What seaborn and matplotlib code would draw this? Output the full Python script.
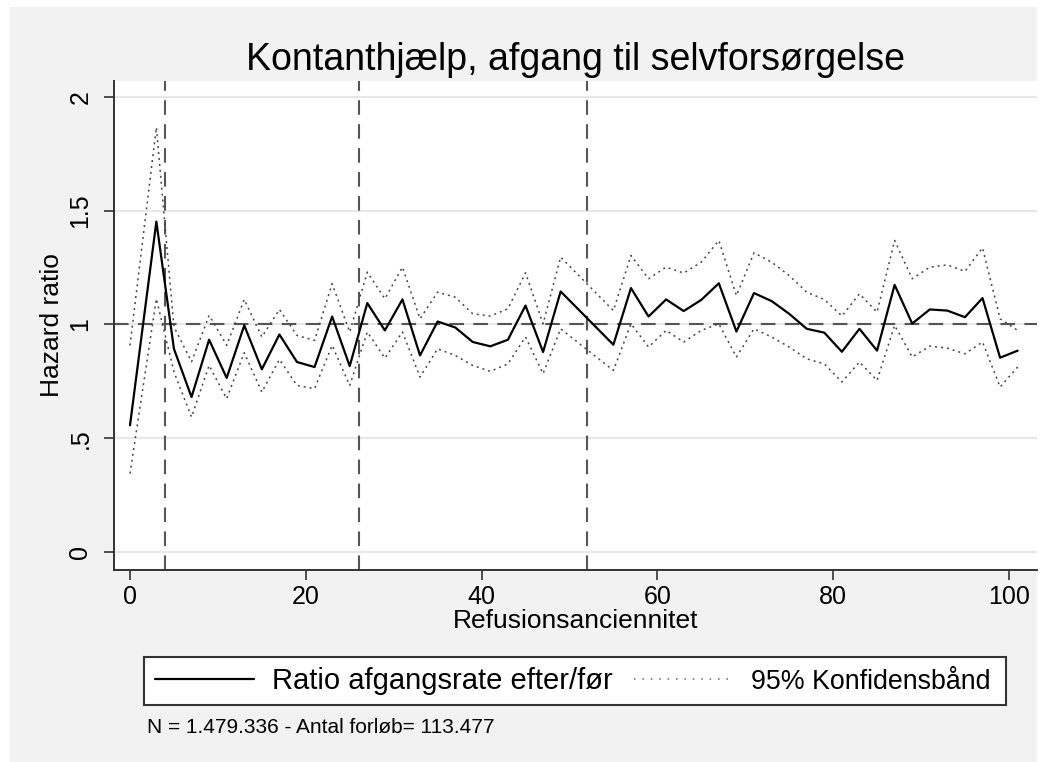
import pandas as pd
import matplotlib
matplotlib.use("Agg")
import matplotlib.pyplot as plt
import seaborn as sns
from matplotlib.patches import Rectangle

# Hazard ratio by refusion seniority (weeks)
weeks = [0, 3, 5, 7, 9, 11, 13, 15, 17, 19, 21, 23, 25, 27, 29, 31, 33, 35, 37, 39,
         41, 43, 45, 47, 49, 55, 57, 59, 61, 63, 65, 67, 69, 71, 73, 75, 77, 79, 81,
         83, 85, 87, 89, 91, 93, 95, 97, 99, 101]
ratio = [0.557, 1.452, 0.893, 0.681, 0.933, 0.765, 0.996, 0.803, 0.956, 0.835,
         0.813, 1.035, 0.817, 1.094, 0.974, 1.110, 0.864, 1.013, 0.987, 0.923,
         0.904, 0.933, 1.083, 0.879, 1.145, 0.911, 1.160, 1.035, 1.110, 1.059,
         1.108, 1.181, 0.969, 1.138, 1.103, 1.047, 0.981, 0.964, 0.880, 0.981,
         0.885, 1.174, 1.004, 1.066, 1.061, 1.032, 1.116, 0.854, 0.885]
upper = [0.908, 1.866, 0.990, 0.836, 1.040, 0.908, 1.110, 0.945, 1.066, 0.952,
         0.930, 1.179, 0.967, 1.230, 1.113, 1.252, 1.025, 1.142, 1.120, 1.047,
         1.037, 1.069, 1.227, 1.003, 1.296, 1.061, 1.303, 1.201, 1.252, 1.226,
         1.274, 1.369, 1.127, 1.315, 1.274, 1.215, 1.142, 1.110, 1.037, 1.135,
         1.054, 1.369, 1.201, 1.252, 1.262, 1.233, 1.337, 1.025, 0.974]
lower = [0.345, 1.113, 0.792, 0.593, 0.820, 0.674, 0.876, 0.703, 0.846, 0.732,
         0.718, 0.908, 0.732, 0.967, 0.852, 0.967, 0.769, 0.893, 0.864, 0.820,
         0.794, 0.827, 0.945, 0.784, 0.981, 0.798, 1.003, 0.901, 0.974, 0.923,
         0.974, 1.003, 0.857, 0.981, 0.945, 0.901, 0.849, 0.827, 0.747, 0.835,
         0.754, 0.996, 0.857, 0.905, 0.896, 0.871, 0.923, 0.725, 0.813]

ref_weeks = [4, 26, 52]
xticks = [0, 20, 40, 60, 80, 100]
yticks = [0, 0.5, 1, 1.5, 2]
ytick_labels = ["0", ".5", "1", "1.5", "2"]

df = pd.DataFrame({"week": weeks, "ratio": ratio, "upper": upper, "lower": lower})

sns.set_style("white")
plt.rcParams["font.family"] = ["Liberation Sans", "DejaVu Sans"]
for k in ["text.color", "axes.labelcolor", "xtick.color", "ytick.color"]:
    plt.rcParams[k] = "black"

W, H = 1051, 762
fig = plt.figure(figsize=(W / 100, H / 100), dpi=100)
fig.patch.set_facecolor("white")
# light grey graph region (Stata style)
fig.add_artist(Rectangle((10 / W, 0), 1027 / W, 755 / H, transform=fig.transFigure,
                         facecolor="#f2f2f2", edgecolor="none", zorder=-10))

ax = fig.add_axes([114 / W, 1 - 570 / H, 923 / W, 489 / H])
ax.set_facecolor("white")

dash = (0, (7, 4.5))
ax.axhline(1, color="#555555", lw=1.5, ls=dash, zorder=2)
for w in ref_weeks:
    ax.axvline(w, color="#555555", lw=1.5, ls=dash, zorder=2)

dot = (0, (1.3, 2.6))
sns.lineplot(data=df, x="week", y="upper", ax=ax, color="#444444", lw=1.1,
             linestyle=dot, label="95% Konfidensbånd", zorder=3)
sns.lineplot(data=df, x="week", y="lower", ax=ax, color="#444444", lw=1.1,
             linestyle=dot, label="_nolegend_", zorder=3)
sns.lineplot(data=df, x="week", y="ratio", ax=ax, color="black", lw=1.6,
             label="Ratio afgangsrate efter/før", zorder=4)

ax.set_xlim(-1.82, 103.2)
ax.set_ylim(-0.079, 2.07)
ax.set_xticks(xticks)
ax.set_yticks(yticks)
ax.set_yticklabels(ytick_labels)
ax.yaxis.grid(True, color="#e8e8e8", lw=1.6)
ax.xaxis.grid(False)
ax.set_axisbelow(True)

for s in ["top", "right"]:
    ax.spines[s].set_visible(False)
for s in ["left", "bottom"]:
    ax.spines[s].set_color("#333333")
    ax.spines[s].set_linewidth(1.4)

ax.tick_params(axis="both", direction="out", length=7.5, width=1.2, color="#333333",
               labelcolor="black", labelsize=18, left=True, bottom=True)
ax.tick_params(axis="x", pad=3)
ax.tick_params(axis="y", pad=8, labelrotation=90)
plt.setp(ax.get_yticklabels(), va="center")

ax.set_xlabel("Refusionsanciennitet", fontsize=19, labelpad=0)
ax.set_ylabel("Hazard ratio", fontsize=19, labelpad=3)
ax.set_title("Kontanthjælp, afgang til selvforsørgelse", fontsize=27, pad=8)

# legend: frame drawn as a separate box so the two columns sit like in Stata
handles, labels = ax.get_legend_handles_labels()
order = [labels.index("Ratio afgangsrate efter/før"), labels.index("95% Konfidensbånd")]
ax.get_legend().remove()
fig.add_artist(Rectangle((144 / W, 1 - 705 / H), 862 / W, 48 / H, transform=fig.transFigure,
                         facecolor="white", edgecolor="#333333", lw=1.5, zorder=4))
leg = fig.legend([handles[i] for i in order], [labels[i] for i in order],
                 loc="center left", bbox_to_anchor=(155 / W, 1 - 681 / H),
                 ncol=2, frameon=False, fontsize=21, handlelength=3.4,
                 handletextpad=0.6, columnspacing=0.75, borderaxespad=0, borderpad=0)
leg.set_zorder(5)
leg.get_texts()[1].set_fontsize(19.3)
leg.get_lines()[1].set_linestyle((0, (1, 4.5)))
leg.get_lines()[1].set_color("#666666")

fig.text(147 / W, 1 - 733 / H, "N = 1.479.336 - Antal forløb= 113.477",
         fontsize=15, ha="left", va="baseline")

fig.savefig("out.png", dpi=100)
